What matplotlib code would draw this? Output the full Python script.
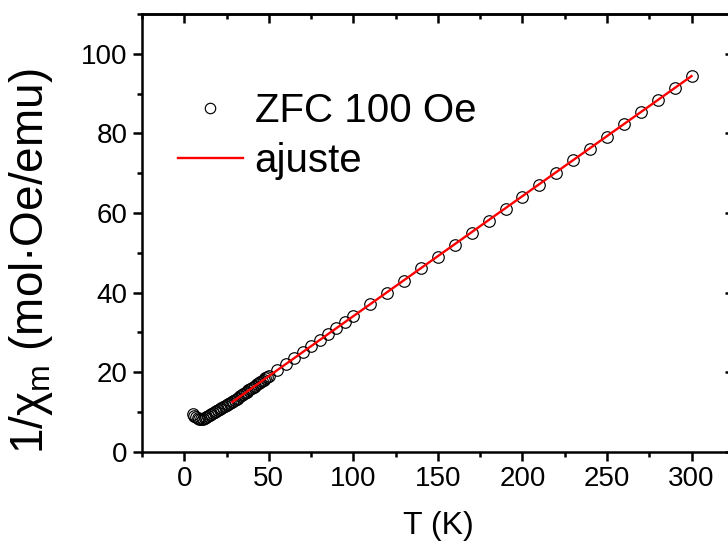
import matplotlib
matplotlib.use("Agg")
import matplotlib.pyplot as plt
from matplotlib.ticker import MultipleLocator

plt.rcParams['font.family'] = ['Liberation Sans', 'DejaVu Sans']
plt.rcParams['mathtext.fontset'] = 'custom'
plt.rcParams['mathtext.rm'] = 'Liberation Sans'
plt.rcParams['mathtext.it'] = 'Liberation Sans:italic'

# ZFC 100 Oe data: T (K) and 1/chi_m (mol·Oe/emu)
T_data = [5, 6, 7, 8, 9, 10, 11, 12, 13, 14, 15, 16, 17, 18, 19, 20,
          21, 22, 23, 24, 25, 26, 27, 28, 29, 30, 31, 32, 33, 34, 35,
          36, 37, 38, 39, 40, 41, 42, 43, 44, 45, 46, 47, 48, 49, 50,
          55, 60, 65, 70, 75, 80, 85, 90, 95, 100,
          110, 120, 130, 140, 150, 160, 170, 180, 190, 200,
          210, 220, 230, 240, 250, 260, 270, 280, 290, 300]
inv_chi = [9.4, 9.0, 8.6, 8.35, 8.2, 8.2, 8.3, 8.5, 8.7, 8.95, 9.2, 9.45, 9.7, 9.95, 10.2, 10.45,
           10.7, 10.95, 11.2, 11.45, 11.7, 11.95, 12.2, 12.45, 12.7, 13.0, 13.3, 13.6, 13.9, 14.2, 14.5,
           14.8, 15.1, 15.4, 15.7, 16.0, 16.3, 16.6, 16.9, 17.2, 17.5, 17.8, 18.1, 18.4, 18.7, 19.0,
           20.5, 22.1, 23.6, 25.1, 26.5, 28.0, 29.5, 31.0, 32.5, 34.0,
           37.0, 40.0, 43.0, 46.1, 49.0, 52.0, 54.9, 58.1, 61.1, 64.1,
           67.1, 70.1, 73.2, 76.1, 79.1, 82.3, 85.3, 88.3, 91.3, 94.3]

# Linear fit (ajuste)
T_fit = [28.5, 300]
inv_chi_fit = [12.5, 94.4]

x_ticks = [0, 50, 100, 150, 200, 250, 300]
y_ticks = [0, 20, 40, 60, 80, 100]

fig = plt.figure(figsize=(7.28, 5.47), dpi=100)
ax = fig.add_axes([0.195, 0.1742, 0.813, 0.8002])

ax.plot(T_data, inv_chi, linestyle='none', marker='o', markersize=8.3,
        markerfacecolor='none', markeredgecolor='black', markeredgewidth=0.85,
        label='ZFC 100 Oe', zorder=2)
ax.plot(T_fit, inv_chi_fit, color='#ff0000', linewidth=1.7, label='ajuste', zorder=3)

ax.set_xlim(-25, 325)
ax.set_ylim(0, 110)
ax.set_xticks(x_ticks)
ax.set_yticks(y_ticks)
ax.xaxis.set_minor_locator(MultipleLocator(25))
ax.yaxis.set_minor_locator(MultipleLocator(10))

for s in ax.spines.values():
    s.set_linewidth(1.8)

ax.tick_params(axis='both', which='major', direction='out', length=6.5, width=1.8,
               labelsize=20, pad=4)
ax.tick_params(axis='both', which='minor', direction='out', length=3.5, width=1.8)
# top and right ticks inward
ax2 = ax.secondary_xaxis('top')
ax2.set_xticks(x_ticks)
ax2.xaxis.set_minor_locator(MultipleLocator(25))
ax2.tick_params(which='major', direction='in', length=6.5, width=1.8, labeltop=False)
ax2.tick_params(which='minor', direction='in', length=3.5, width=1.8)
ax2.spines['top'].set_linewidth(1.8)
ax3 = ax.secondary_yaxis('right')
ax3.set_yticks(y_ticks)
ax3.yaxis.set_minor_locator(MultipleLocator(10))
ax3.tick_params(which='major', direction='in', length=6.5, width=1.8, labelright=False)
ax3.tick_params(which='minor', direction='in', length=3.5, width=1.8)
ax3.spines['right'].set_linewidth(1.8)

ax.set_xlabel('T (K)', fontsize=23)
ax.xaxis.set_label_coords(0.5, -0.136)
ax.set_ylabel('1/χ$_\\mathrm{m}$ (mol·Oe/emu)', fontsize=33)
ax.yaxis.set_label_coords(-0.147, 0.436)

leg = ax.legend(loc='upper left', bbox_to_anchor=(0.061, 0.821), frameon=False,
                fontsize=29, handlelength=1.6, handletextpad=0.3, labelspacing=0.3,
                borderpad=0, borderaxespad=0, numpoints=1)
leg.legend_handles[0].set_markersize(7.5)

fig.savefig('out.png', dpi=100)
